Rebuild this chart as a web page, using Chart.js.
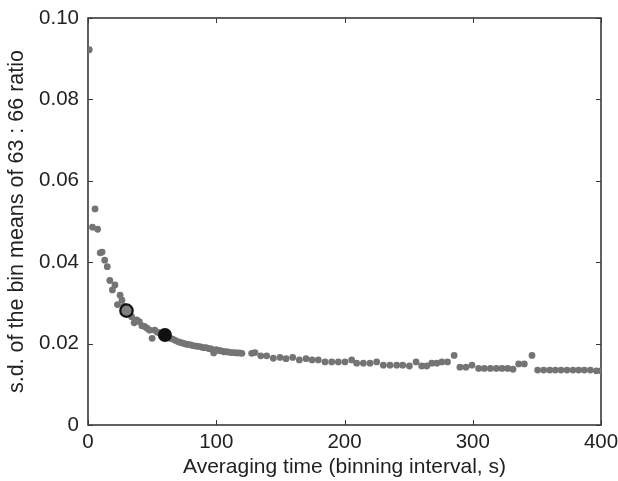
<!DOCTYPE html>
<html>
<head>
<meta charset="utf-8">
<script src="https://cdn.jsdelivr.net/npm/chart.js@4/dist/chart.umd.min.js"></script>
<style>
  html, body { margin: 0; padding: 0; background: #fff; }
  #wrap { width: 618px; height: 481px; }
</style>
</head>
<body>
<div id="wrap"><canvas id="chart"></canvas></div>
<script>
// --- DATA ---
const binTimes = [
  1, 3.5, 5.5, 7.5, 9.5, 11, 13, 15, 17, 19, 21, 23, 25, 26.5, 28,
  30, 32, 34, 36, 38, 40, 42, 44, 46, 48, 50, 52, 54, 56, 58,
  60, 62, 64, 66, 68, 70, 72, 74, 76, 78, 80, 82, 84, 86, 88,
  90, 92, 94, 96, 98, 100, 102, 104, 106, 108, 110, 112, 114, 116, 118, 120,
  127.6, 130.2, 134.7, 139.3, 144.5, 149.7, 154.4, 159.6, 164.8, 170,
  174.7, 179.6, 184.8, 190, 195.2, 200.4, 205.6, 209.5, 214.7, 219.9,
  225.1, 230.3, 235.5, 240.7, 245.4, 250.6, 255.8, 260.2, 264.1, 268,
  272, 275.9, 280.3, 285.5, 290, 294.7, 299.4, 304.6, 309, 313.7,
  318.4, 322.8, 327.2, 331.4, 335.8, 340.2, 346.2, 350.6, 355.3, 360,
  364.4, 368.8, 373.5, 378.2, 382.6, 387, 391.7, 396.4, 400
];
const sdValues = [
  0.0922, 0.0486, 0.0531, 0.0481, 0.0423, 0.0425, 0.0405, 0.0389, 0.0355, 0.0332, 0.0344, 0.0296, 0.0319, 0.0307, 0.0292,
  0.0281, 0.0274, 0.0266, 0.0251, 0.0258, 0.0254, 0.0244, 0.0242, 0.0238, 0.0233, 0.0213, 0.0233, 0.0228, 0.0226, 0.0223,
  0.0221, 0.0216, 0.0213, 0.0211, 0.0208, 0.0205, 0.0203, 0.0201, 0.0199, 0.0198, 0.0197, 0.0195, 0.0194, 0.0193, 0.0192,
  0.0190, 0.0190, 0.0188, 0.0187, 0.0177, 0.0185, 0.0183, 0.0182, 0.0180, 0.0180, 0.0179, 0.0178, 0.0178, 0.0177, 0.0177, 0.0176,
  0.0176, 0.0178, 0.0170, 0.0170, 0.0164, 0.0166, 0.0163, 0.0166, 0.0160, 0.0163,
  0.0160, 0.0160, 0.0155, 0.0155, 0.0155, 0.0155, 0.0160, 0.0152, 0.0152, 0.0152,
  0.0155, 0.0147, 0.0147, 0.0147, 0.0147, 0.0145, 0.0155, 0.0145, 0.0145, 0.0152,
  0.0152, 0.0155, 0.0155, 0.0171, 0.0142, 0.0142, 0.0147, 0.0139, 0.0139, 0.0139,
  0.0139, 0.0139, 0.0139, 0.0137, 0.0150, 0.0150, 0.0171, 0.0135, 0.0135, 0.0135,
  0.0135, 0.0135, 0.0135, 0.0135, 0.0135, 0.0135, 0.0135, 0.0133, 0.0133
];
// highlighted bins
const openMarkX = [30];
const openMarkY = [0.0281];
const filledMarkX = [60];
const filledMarkY = [0.0221];

const xTicks = [0, 100, 200, 300, 400];
const yTicks = [0, 0.02, 0.04, 0.06, 0.08, 0.10];

const FONT = "'Liberation Sans', Arial, sans-serif";
const INK = '#222';

const toPoints = (xs, ys) => xs.map((x, i) => ({ x, y: ys[i] }));

// --- PLUGIN: box frame + inward ticks on all four sides ---
const frameTicks = {
  id: 'frameTicks',
  beforeDatasetsDraw(chart) {
    const { ctx, chartArea: a, scales: { x, y } } = chart;
    const len = 5;
    ctx.save();
    ctx.strokeStyle = '#3a3a3a';
    ctx.lineWidth = 1;
    ctx.beginPath();
    xTicks.forEach(v => {
      const px = Math.round(x.getPixelForValue(v)) + 0.5;
      ctx.moveTo(px, a.bottom); ctx.lineTo(px, a.bottom - len);
      ctx.moveTo(px, a.top); ctx.lineTo(px, a.top + len);
    });
    yTicks.forEach(v => {
      const py = Math.round(y.getPixelForValue(v)) + 0.5;
      ctx.moveTo(a.left, py); ctx.lineTo(a.left + len, py);
      ctx.moveTo(a.right, py); ctx.lineTo(a.right - len, py);
    });
    ctx.stroke();
    ctx.lineWidth = 1.6;
    ctx.strokeRect(a.left, a.top, a.right - a.left, a.bottom - a.top);
    ctx.restore();
  }
};

new Chart(document.getElementById('chart'), {
  type: 'scatter',
  data: {
    datasets: [
      {
        label: 'bins',
        data: toPoints(binTimes, sdValues),
        backgroundColor: '#747474',
        borderWidth: 0,
        pointRadius: 3.4,
        order: 3
      },
      {
        label: 'open',
        data: toPoints(openMarkX, openMarkY),
        backgroundColor: '#808080',
        borderColor: '#111',
        borderWidth: 2.2,
        pointRadius: 6.2,
        order: 2
      },
      {
        label: 'filled',
        data: toPoints(filledMarkX, filledMarkY),
        backgroundColor: '#111',
        borderColor: '#111',
        borderWidth: 0,
        pointRadius: 7,
        order: 1
      }
    ]
  },
  options: {
    responsive: true,
    maintainAspectRatio: false,
    animation: false,
    layout: { padding: { top: 18, right: 17, left: 0, bottom: 0 } },
    plugins: { legend: { display: false }, tooltip: { enabled: false } },
    elements: { point: { hoverRadius: 0 } },
    scales: {
      x: {
        type: 'linear',
        min: 0,
        max: 400,
        afterBuildTicks: (s) => { s.ticks = xTicks.map(value => ({ value })); },
        grid: { display: false, drawTicks: false },
        border: { display: false },
        ticks: { color: INK, font: { family: FONT, size: 20.5 }, padding: 5, maxRotation: 0 },
        title: {
          display: true,
          text: 'Averaging time (binning interval, s)',
          color: INK,
          font: { family: FONT, size: 21 },
          padding: { top: 0, bottom: 1.5 }
        },
        afterFit: (s) => { s.height = 56; s.paddingLeft = 0; s.paddingRight = 0; }
      },
      y: {
        type: 'linear',
        min: 0,
        max: 0.1,
        afterBuildTicks: (s) => { s.ticks = yTicks.map(value => ({ value })); },
        grid: { display: false, drawTicks: false },
        border: { display: false },
        ticks: {
          color: INK,
          font: { family: FONT, size: 20.5 },
          padding: 9,
          callback: (v) => (v === 0 ? '0' : v.toFixed(2))
        },
        title: {
          display: true,
          text: 's.d. of the bin means of 63 : 66 ratio',
          color: INK,
          font: { family: FONT, size: 21.5 },
          padding: { top: 4, bottom: 0 }
        },
        afterFit: (s) => { s.width = 88; s.paddingTop = 0; s.paddingBottom = 0; }
      }
    }
  },
  plugins: [frameTicks]
});
</script>
</body>
</html>
